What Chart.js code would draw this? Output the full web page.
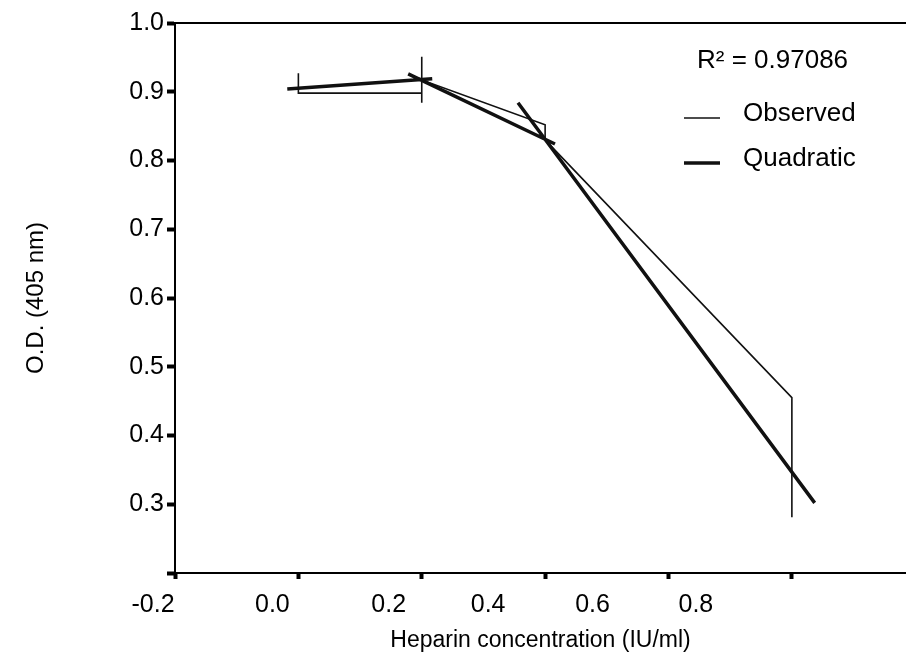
<!DOCTYPE html>
<html>
<head>
<meta charset="utf-8">
<script src="https://cdn.jsdelivr.net/npm/chart.js@4.4.0/dist/chart.umd.min.js"></script>
<style>
  html, body { margin: 0; padding: 0; background: #fff; }
</style>
</head>
<body>
<canvas id="chart" width="906" height="661"></canvas>
<script>
// Heparin standard curve: O.D. (405 nm) vs heparin concentration

// tick labels
const xTickLabels = ['-0.2', '0.0', '0.2', '0.4', '0.6', '0.8'];
const yTickLabels = ['', '0.3', '0.4', '0.5', '0.6', '0.7', '0.8', '0.9', '1.0'];

// observed readings, joined in order (replicates share an x)
const obsX = [0.0, 0.0, 0.2, 0.2, 0.2, 0.2, 0.4, 0.4, 0.8, 0.8];
const obsY = [0.927, 0.898, 0.898, 0.884, 0.951, 0.917, 0.852, 0.830, 0.455, 0.281];

// quadratic fit, drawn as three strokes
const fitX = [[-0.018, 0.217], [0.178, 0.416], [0.356, 0.837]];
const fitY = [[0.904, 0.919], [0.926, 0.824], [0.884, 0.302]];

const rSquared = '0.97086';

const FONT = '"Liberation Sans", Arial, sans-serif';
// the printed x labels sit left of their tick marks
const X_LABEL_NUDGE = [-22, -26, -33, -57, -76, -96];

const obsPoints = obsX.map((x, i) => ({ x: x, y: obsY[i] }));
const fitPoints = [];
fitX.forEach((xs, s) => {
  if (s > 0) fitPoints.push({ x: xs[0], y: null }); // break between strokes
  xs.forEach((x, i) => fitPoints.push({ x: x, y: fitY[s][i] }));
});

const xLabels = {
  id: 'xLabels',
  afterDraw(chart) {
    const scale = chart.scales.x;
    const ctx = chart.ctx;
    ctx.save();
    ctx.font = '25px ' + FONT;
    ctx.fillStyle = '#000';
    ctx.textAlign = 'center';
    ctx.textBaseline = 'middle';
    scale.ticks.forEach((t, i) => {
      const px = scale.getPixelForValue(t.value) + (X_LABEL_NUDGE[i] || 0);
      ctx.fillText(xTickLabels[i], px, scale.top + 32);
    });
    ctx.restore();
  }
};

const fitLegend = {
  id: 'fitLegend',
  afterDraw(chart) {
    const ctx = chart.ctx;
    ctx.save();
    ctx.fillStyle = '#000';
    ctx.font = '26px ' + FONT;
    ctx.textBaseline = 'middle';
    ctx.fillText('R\u00B2 = ' + rSquared, 697, 61);
    chart.data.datasets.forEach((ds, i) => {
      const y = 114 + i * 45;
      ctx.strokeStyle = ds.borderColor;
      ctx.lineWidth = ds.borderWidth;
      ctx.beginPath();
      ctx.moveTo(684, y + 4);
      ctx.lineTo(720, y + 4);
      ctx.stroke();
      ctx.fillText(ds.label, 743, y);
    });
    ctx.restore();
  }
};

new Chart(document.getElementById('chart'), {
  type: 'line',
  data: {
    datasets: [
      {
        label: 'Observed',
        data: obsPoints,
        borderColor: '#111',
        borderWidth: 1.6,
        pointRadius: 0,
        tension: 0
      },
      {
        label: 'Quadratic',
        data: fitPoints,
        borderColor: '#111',
        borderWidth: 3.5,
        pointRadius: 0,
        tension: 0,
        spanGaps: false
      }
    ]
  },
  options: {
    responsive: false,
    animation: false,
    layout: { padding: 0 },
    plugins: {
      legend: { display: false },
      tooltip: { enabled: false }
    },
    scales: {
      x: {
        type: 'linear',
        position: 'bottom',
        min: -0.2,
        max: 0.985,
        afterFit: s => { s.height = 88; },
        ticks: { display: false, stepSize: 0.2, includeBounds: false },
        grid: { drawOnChartArea: false, drawTicks: true, tickLength: 6, tickWidth: 4, tickColor: '#000' },
        border: { color: '#000', width: 2 },
        title: {
          display: true,
          text: 'Heparin concentration (IU/ml)',
          color: '#000',
          font: { family: FONT, size: 23 },
          padding: { top: 0, bottom: 7 }
        }
      },
      xTop: {
        type: 'linear',
        position: 'top',
        afterFit: s => { s.height = 23; },
        ticks: { display: false },
        grid: { display: false },
        border: { color: '#000', width: 2 }
      },
      y: {
        type: 'linear',
        min: 0.2,
        max: 1.0,
        afterFit: s => { s.width = 175; },
        ticks: {
          stepSize: 0.1,
          color: '#000',
          padding: 3,
          font: { family: FONT, size: 25 },
          callback: (v, i) => yTickLabels[i]
        },
        grid: { drawOnChartArea: false, drawTicks: true, tickLength: 8, tickWidth: 4, tickColor: '#000' },
        border: { color: '#000', width: 2 },
        title: {
          display: true,
          text: 'O.D. (405 nm)',
          color: '#000',
          font: { family: FONT, size: 24 },
          padding: { top: 22, bottom: 0 }
        }
      }
    }
  },
  plugins: [xLabels, fitLegend]
});
</script>
</body>
</html>
